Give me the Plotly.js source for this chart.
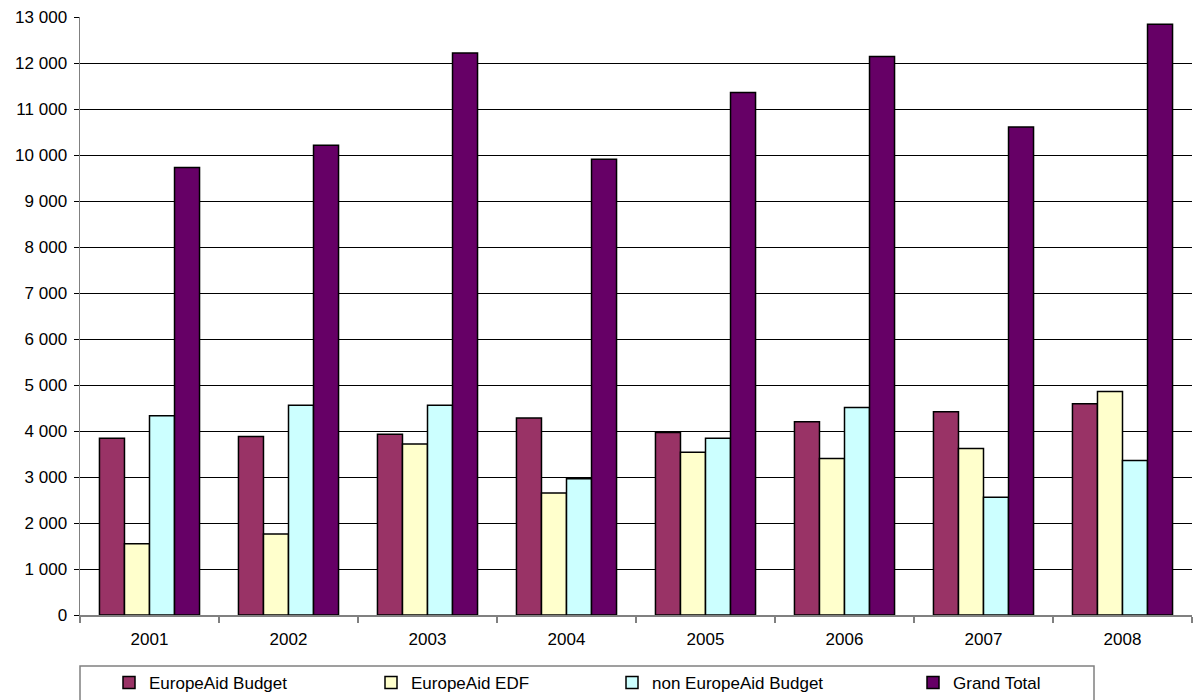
<!DOCTYPE html>
<html>
<head>
<meta charset="utf-8">
<script src="https://cdn.plot.ly/plotly-3.0.1.min.js"></script>
<style>
  html, body { margin: 0; padding: 0; background: #fff; }
  #chart { width: 1198px; height: 700px; }
</style>
</head>
<body>
<div id="chart"></div>
<script>
// ---- data ----
const years = ["2001", "2002", "2003", "2004", "2005", "2006", "2007", "2008"];
const europeAidBudget = [3840, 3880, 3930, 4280, 3970, 4200, 4420, 4590];
const europeAidEDF = [1550, 1760, 3720, 2650, 3540, 3400, 3620, 4860];
const nonEuropeAidBudget = [4330, 4560, 4560, 2960, 3840, 4510, 2560, 3360];
const grandTotal = [9730, 10210, 12220, 9910, 11360, 12140, 10610, 12840];
const seriesNames = ["EuropeAid Budget", "EuropeAid EDF", "non EuropeAid Budget", "Grand Total"];
const seriesColors = ["#993366", "#FFFFCC", "#CCFFFF", "#660066"];
const yTicks = [0, 1000, 2000, 3000, 4000, 5000, 6000, 7000, 8000, 9000, 10000, 11000, 12000, 13000];

const seriesValues = [europeAidBudget, europeAidEDF, nonEuropeAidBudget, grandTotal];
const legendIds = ["legend", "legend2", "legend3", "legend4"];

const FONT = "Liberation Sans, Arial, sans-serif";
const FS = 17;

const traces = seriesValues.map((vals, i) => ({
  type: "bar",
  name: seriesNames[i],
  x: years,
  y: vals,
  legend: legendIds[i],
  marker: { color: seriesColors[i], line: { color: "#000000", width: 1.5 } },
  hoverinfo: "x+y+name"
}));

// plot area: left 80, right 1192, top 17, bottom 615
const W = 1198, H = 700;
const mL = 80, mR = 6, mT = 17, mB = 85;
const plotW = W - mL - mR, plotH = H - mT - mB;
const px2x = px => (px - mL) / plotW;
const px2y = py => (H - mB - py) / plotH;

// legend swatch centres in the reference (px)
const swatchCentres = [133, 395, 636, 937];
const legendY = px2y(683);

const layout = {
  width: W,
  height: H,
  margin: { l: mL, r: mR, t: mT, b: mB, pad: 0, autoexpand: false },
  paper_bgcolor: "#ffffff",
  plot_bgcolor: "#ffffff",
  font: { family: FONT, size: FS, color: "#000000" },
  separators: ". ",
  barmode: "group",
  bargap: 0.28,
  bargroupgap: 0,
  xaxis: {
    type: "category",
    showgrid: false,
    showline: true,
    linecolor: "#808080",
    linewidth: 1.5,
    ticks: "outside",
    tickson: "boundaries",
    ticklen: 6,
    tickcolor: "#808080",
    tickwidth: 1.5,
    ticklabelstandoff: 8,
    tickfont: { family: FONT, size: FS, color: "#000000" },
    zeroline: false,
    automargin: false,
    fixedrange: true
  },
  yaxis: {
    range: [0, 13000],
    tickvals: yTicks,
    tickformat: ",d",
    showgrid: true,
    gridcolor: "#000000",
    gridwidth: 1,
    showline: true,
    linecolor: "#808080",
    linewidth: 1.5,
    ticks: "outside",
    ticklen: 5,
    tickcolor: "#000000",
    tickwidth: 1,
    ticklabelstandoff: 3,
    tickfont: { family: FONT, size: FS, color: "#000000" },
    zeroline: false,
    automargin: false,
    fixedrange: true
  },
  shapes: [{
    type: "rect",
    xref: "paper", yref: "paper",
    x0: px2x(80), x1: px2x(1094),
    y0: px2y(720), y1: px2y(666),
    line: { color: "#808080", width: 1.5 },
    fillcolor: "rgba(0,0,0,0)"
  }],
  showlegend: true
};

legendIds.forEach((id, i) => {
  layout[id] = {
    x: px2x(swatchCentres[i] - 24),
    xanchor: "left",
    y: legendY,
    yanchor: "middle",
    orientation: "h",
    bgcolor: "rgba(0,0,0,0)",
    borderwidth: 0,
    font: { family: FONT, size: FS, color: "#000000" }
  };
});

Plotly.newPlot("chart", traces, layout, { displayModeBar: false, staticPlot: true });
</script>
</body>
</html>
